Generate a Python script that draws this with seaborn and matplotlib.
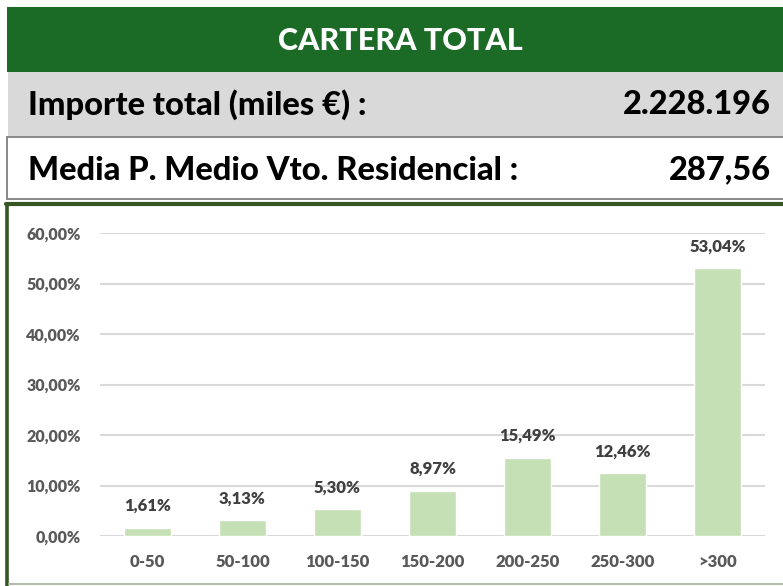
import matplotlib
matplotlib.use("Agg")
import matplotlib.pyplot as plt
import seaborn as sns
import pandas as pd
from matplotlib.patches import Rectangle
from matplotlib.lines import Line2D

categories = ["0-50", "50-100", "100-150", "150-200", "200-250", "250-300", ">300"]
values = [1.61, 3.13, 5.30, 8.97, 15.49, 12.46, 53.04]
yticks = [0, 10, 20, 30, 40, 50, 60]
title = "CARTERA TOTAL"
row1_label, row1_value = "Importe total (miles €) :", "2.228.196"
row2_label, row2_value = "Media P. Medio Vto. Residencial :", "287,56"

sns.set_theme(style="white")
plt.rcParams['font.family'] = ['Lato', 'DejaVu Sans']

W, H = 783, 586
fig = plt.figure(figsize=(W / 100, H / 100), dpi=100)
fig.patch.set_facecolor("white")

def fx(x):
    return x / W

def fy(y):
    return 1 - y / H

def rect(x0, y0, x1, y1, **kw):
    fig.patches.append(Rectangle((fx(x0), fy(y1)), fx(x1) - fx(x0), fy(y0) - fy(y1),
                                 transform=fig.transFigure, figure=fig, **kw))

HW = "black"
# header
rect(7, 7, 783, 72, facecolor="#1b6b27", edgecolor="none")
fig.text(fx(400), fy(41), title, color="white", fontsize=22, fontweight=HW,
         ha="center", va="center")
# row 1
rect(8, 72, 783, 136, facecolor="#d9d9d9", edgecolor="none")
fig.text(fx(28), fy(105), row1_label, color="black", fontsize=23.5, fontweight=HW,
         ha="left", va="center")
fig.text(fx(771), fy(105), row1_value, color="black", fontsize=23.5, fontweight=HW,
         ha="right", va="center")
# row 2
rect(7, 137, 790, 199, facecolor="white", edgecolor="#7f7f7f", linewidth=1.3)
fig.text(fx(28), fy(170), row2_label, color="black", fontsize=23.5, fontweight=HW,
         ha="left", va="center")
fig.text(fx(771), fy(170), row2_value, color="black", fontsize=23.5, fontweight=HW,
         ha="right", va="center")
# chart border
fig.lines.append(Line2D([fx(7.5), fx(7.5)], [fy(204), fy(586)], transform=fig.transFigure,
                        color="#375623", linewidth=2.6))
fig.lines.append(Line2D([fx(6), fx(783)], [fy(204.5), fy(204.5)], transform=fig.transFigure,
                        color="#375623", linewidth=3))
fig.lines.append(Line2D([fx(9), fx(783)], [fy(583.5), fy(583.5)], transform=fig.transFigure,
                        color="#b4bcaa", linewidth=1.5))

# plot
ax = fig.add_axes([fx(100), fy(536), fx(765) - fx(100), fy(233) - fy(536)])
df = pd.DataFrame({"cat": categories, "val": values})
sns.barplot(data=df, x="cat", y="val", ax=ax, color="#c5e0b4", saturation=1,
            width=0.5, zorder=3)
ax.set_ylim(0, 60)
ax.set_xlim(-0.5, len(categories) - 0.5)
ax.set_yticks(yticks)
ax.set_yticklabels([f"{t:.2f}".replace(".", ",") + "%" for t in yticks])
ax.grid(axis="y", color="#d9d9d9", linewidth=1.5, zorder=0)
ax.grid(axis="x", visible=False)
for s in ax.spines.values():
    s.set_visible(False)
ax.set_xlabel("")
ax.set_ylabel("")
ax.tick_params(axis="y", length=0, pad=14, labelsize=11.5, labelcolor="#595959")
ax.tick_params(axis="x", length=0, pad=13, labelsize=12, labelcolor="#595959")
for lab in ax.get_xticklabels() + ax.get_yticklabels():
    lab.set_fontweight("heavy")
for i, v in enumerate(values):
    ax.annotate(f"{v:.2f}".replace(".", ",") + "%", (i, v), xytext=(0, 10),
                textcoords="offset points", ha="center", va="bottom",
                fontsize=12, fontweight="heavy", color="#404040")

fig.savefig("out.png", dpi=100)
